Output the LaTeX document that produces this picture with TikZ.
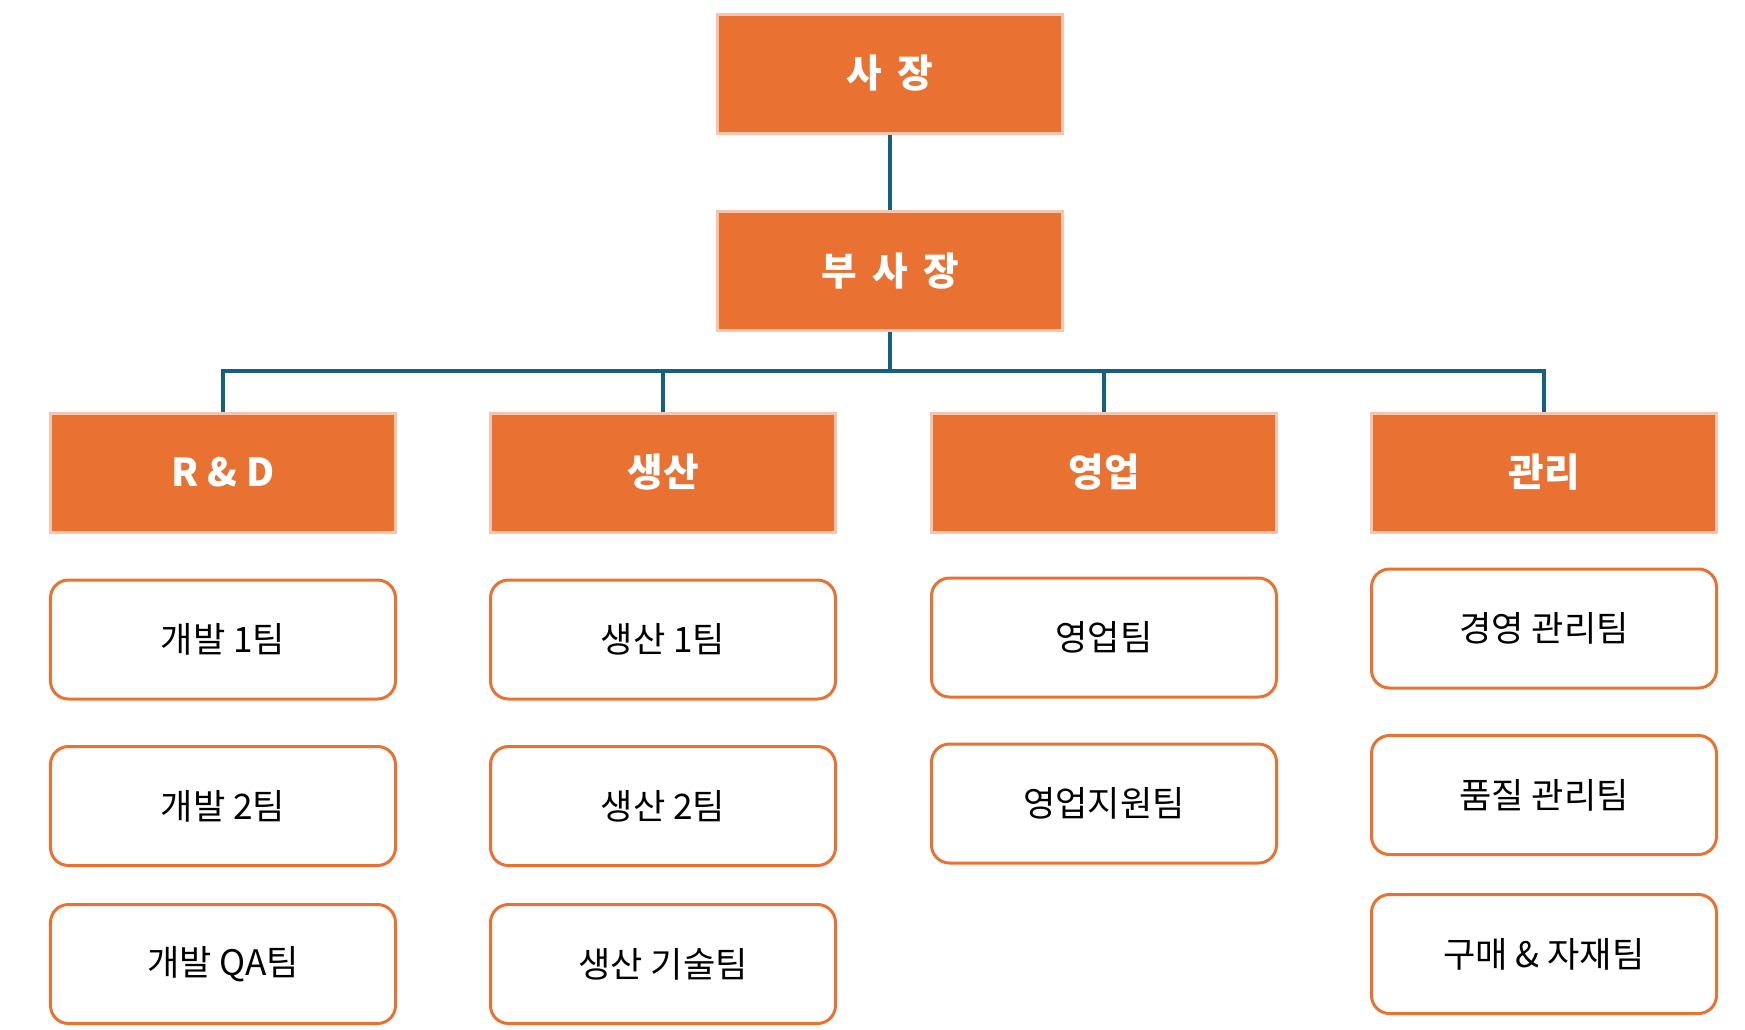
\documentclass[tikz,border=0pt]{standalone}
\usepackage{fontspec}
\setmainfont{Noto Sans CJK KR}
\usepackage{tikz}
\definecolor{orgfill}{HTML}{E97132}
\definecolor{orgedge}{HTML}{F6C5AF}
\definecolor{linkblue}{HTML}{156082}
\tikzset{
	headbox/.style={rectangle, fill=orgfill, draw=orgedge, line width=0.3mm, minimum width=3.45cm, minimum height=1.19cm, text=white, font=\fontsize{11pt}{13pt}\selectfont\bfseries},
	teambox/.style={rectangle, rounded corners=0.18cm, fill=white, draw=orgfill, line width=0.3mm, minimum width=3.45cm, minimum height=1.19cm, text=black, font=\fontsize{10pt}{12pt}\selectfont},
	conn/.style={draw=linkblue, line width=0.35mm}
}

\begin{document}
\begin{tikzpicture}
			%%%%% START %%%%%
			\useasboundingbox (0, 0) rectangle (17.45, -10.30);
			
			\node[headbox] (ceo) at (8.90, -0.735) {사\, 장};
			\node[headbox] (vp) at (8.90, -2.71) {부\, 사\, 장};
			
			\node[headbox] (rd) at (2.23, -4.725) {R \& D};
			\node[headbox] (pr) at (6.63, -4.725) {생산};
			\node[headbox] (sl) at (11.04, -4.725) {영업};
			\node[headbox] (mg) at (15.44, -4.725) {관리};
			
			\node[teambox] (rd1) at (2.23, -6.395) {개발 1팀};
			\node[teambox] (rd2) at (2.23, -8.06) {개발 2팀};
			\node[teambox] (rdqa) at (2.23, -9.64) {개발 QA팀};
			
			\node[teambox] (pr1) at (6.63, -6.395) {생산 1팀};
			\node[teambox] (pr2) at (6.63, -8.06) {생산 2팀};
			\node[teambox] (prtech) at (6.63, -9.64) {생산 기술팀};
			
			\node[teambox] (sl1) at (11.04, -6.375) {영업팀};
			\node[teambox] (slsup) at (11.04, -8.035) {영업지원팀};
			
			\node[teambox] (mg1) at (15.44, -6.285) {경영 관리팀};
			\node[teambox] (mgqc) at (15.44, -7.95) {품질 관리팀};
			\node[teambox] (mgbuy) at (15.44, -9.54) {구매 \& 자재팀};
			
			\coordinate (bus) at (8.90, -3.71);
			\draw[conn] (ceo.south) -- (vp.north);
			\draw[conn] (vp.south) -- (bus);
			\draw[conn] (rd.north) |- (bus) -| (mg.north);
			\draw[conn] (pr.north) -- (pr.north |- bus);
			\draw[conn] (sl.north) -- (sl.north |- bus);
			
			%%%%% END %%%%%
		\end{tikzpicture}
\end{document}
